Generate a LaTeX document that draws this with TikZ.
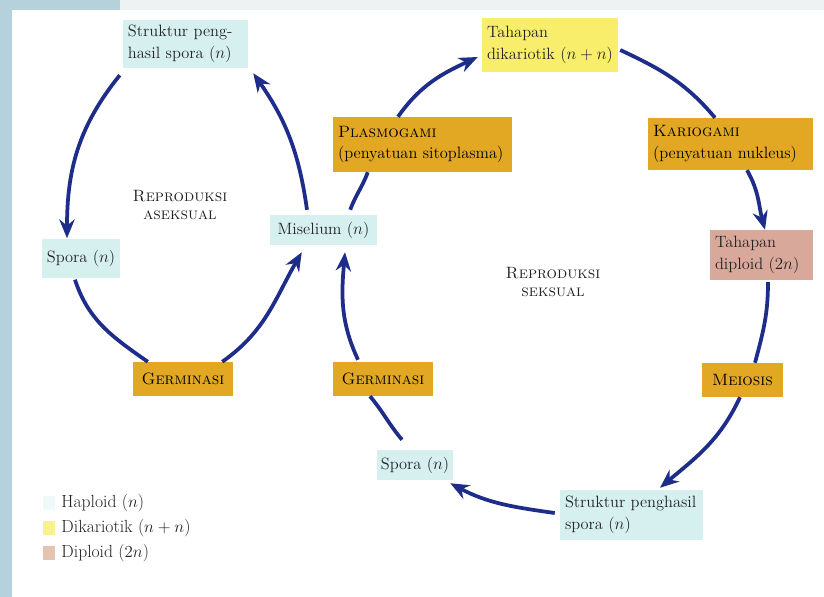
\documentclass[tikz,border=0pt]{standalone}
\usepackage{fontspec}
\usepackage{xcolor}
\usetikzlibrary{arrows.meta,calc}

\definecolor{haplo}{HTML}{D6F0F0}
\definecolor{dikaryo}{HTML}{F8EE6C}
\definecolor{diplo}{HTML}{D8A99B}
\definecolor{process}{HTML}{E2A823}
\definecolor{cycleblue}{HTML}{1E2C8A}
\definecolor{bandblue}{HTML}{B5D1DB}
\definecolor{topgrey}{HTML}{EEF2F2}
\definecolor{inkdark}{HTML}{222222}

\begin{document}
\begin{tikzpicture}[x=0.03cm,y=0.03cm,
    box/.style={align=left,inner xsep=1.5mm,inner ysep=0pt,text=inkdark,
      font=\fontsize{14}{18.5}\selectfont},
    haplbox/.style={box,fill=haplo},
    dikabox/.style={box,fill=dikaryo},
    diplbox/.style={box,fill=diplo},
    procbox/.style={box,fill=process,text=black},
    onebox/.style={align=center,inner xsep=0pt},
    cyclab/.style={align=center,text=inkdark,font=\fontsize{14}{16}\selectfont},
    legsq/.style={minimum width=3.6mm,minimum height=4.2mm,inner sep=0pt},
    legtext/.style={anchor=west,text=inkdark,inner sep=0pt,
      font=\fontsize{15}{18}\selectfont},
    cycle/.style={draw=cycleblue,line width=3.2pt},
    cyclearr/.style={cycle,-{Stealth[length=16pt,width=13pt]}}]

    \useasboundingbox (0,0) rectangle (824,-597);
    % Page frame
    \fill[white] (0,0) rectangle (824,-597);
    \fill[topgrey] (120,0) rectangle (824,-10);
    \fill[bandblue] (0,0) rectangle (120,-10);
    \fill[bandblue] (0,0) rectangle (12,-597);

    % Asexual cycle
    \node[haplbox,text width=34.5mm,minimum height=14.4mm] (sps1) at (185.5,-44)
        {Struktur peng-\\hasil spora ($n$)};
    \node[haplbox,onebox,minimum width=23.4mm,minimum height=11.7mm] (spora1) at (81,-258)
        {Spora ($n$)};
    \node[haplbox,onebox,minimum width=32.1mm,minimum height=9mm] (misel) at (323.5,-230)
        {Miselium ($n$)};
    \node[procbox,onebox,minimum width=30mm,minimum height=10.2mm] (germ1) at (183,-379)
        {\textsc{Germinasi}};
    \node[cyclab] (asex) at (180,-205) {\textsc{Reproduksi}\\\textsc{aseksual}};

    % Sexual cycle
    \node[procbox,text width=50.7mm,minimum height=16.5mm] (plasmo) at (422.5,-144.5)
        {\textsc{Plasmogami}\\(penyatuan sitoplasma)};
    \node[dikabox,text width=37.8mm,minimum height=16.2mm] (dika) at (550,-45)
        {Tahapan\\dikariotik ($n+n$)};
    \node[procbox,text width=46.5mm,minimum height=15.6mm] (kario) at (730.5,-144)
        {\textsc{Kariogami}\\(penyatuan nukleus)};
    \node[diplbox,text width=27.9mm,minimum height=15mm] (dipl) at (761.5,-255)
        {Tahapan\\diploid ($2n$)};
    \node[procbox,onebox,minimum width=24.3mm,minimum height=10.2mm] (meio) at (742.5,-380)
        {\textsc{Meiosis}};
    \node[haplbox,text width=39.9mm,minimum height=15mm] (sps2) at (631.5,-515)
        {Struktur penghasil\\spora ($n$)};
    \node[haplbox,onebox,minimum width=22.8mm,minimum height=9mm] (spora2) at (415,-465)
        {Spora ($n$)};
    \node[procbox,onebox,minimum width=30mm,minimum height=10.2mm] (germ2) at (383,-379)
        {\textsc{Germinasi}};
    \node[cyclab] (sex) at (553,-282) {\textsc{Reproduksi}\\\textsc{seksual}};

    % Legend
    \node[legsq,fill=haplo!40] (lhap) at (49,-503) {};
    \node[legsq,fill=dikaryo!80] (ldik) at (49,-528) {};
    \node[legsq,fill=diplo!70!brown!60] (ldip) at (49,-553) {};
    \node[legtext] at ($(lhap.east)+(6,0)$) {Haploid ($n$)};
    \node[legtext] at ($(ldik.east)+(6,0)$) {Dikariotik ($n+n$)};
    \node[legtext] at ($(ldip.east)+(6,0)$) {Diploid ($2n$)};

    % Asexual connectors
    \draw[cyclearr] ($(sps1.south west)+(-3,-7)$) to[out=231,in=90] ($(spora1.north)+(-14,0)$);
    \draw[cycle] ($(spora1.south)+(-6,-2)$) to[out=-72,in=145] ($(germ1.north west)+(15,0)$);
    \draw[cyclearr] ($(germ1.north east)+(-11,0)$) to[out=35,in=240] ($(misel.south west)+(32,-7)$);
    \draw[cyclearr] ($(misel.north)+(-16.5,5)$) to[out=98,in=305] ($(sps1.south east)+(5,-5)$);

    % Sexual connectors
    \draw[cycle] ($(misel.north east)+(-27,5)$) to[out=70,in=250] ($(plasmo.south west)+(35,0)$);
    \draw[cyclearr] ($(plasmo.north)+(-24.5,0)$) to[out=55,in=205] ($(dika.west)+(-4,-12)$);
    \draw[cycle] ($(dika.east)+(2,-5)$) to[out=-25,in=130] ($(kario.north)+(-15.5,0)$);
    \draw[cyclearr] ($(kario.south)+(16.5,0)$) to[out=-60,in=105] ($(dipl.north)+(3.5,0)$);
    \draw[cycle] ($(dipl.south)+(6.5,-2)$) to[out=-90,in=75] ($(meio.north)+(12.5,0)$);
    \draw[cyclearr] ($(meio.south)+(-2.5,0)$) to[out=-115,in=40] ($(sps2.north)+(28.5,2)$);
    \draw[cyclearr] ($(sps2.west)+(-5,2)$) to[out=172,in=-28] ($(spora2.south east)+(-3,-3)$);
    \draw[cycle] ($(spora2.north)+(-13,10)$) to[out=130,in=-50] ($(germ2.south)+(-13,0)$);
    \draw[cyclearr] ($(germ2.north)+(-25,2)$) to[out=115,in=-95] ($(misel.south)+(21.5,-7)$);
\end{tikzpicture}
\end{document}
